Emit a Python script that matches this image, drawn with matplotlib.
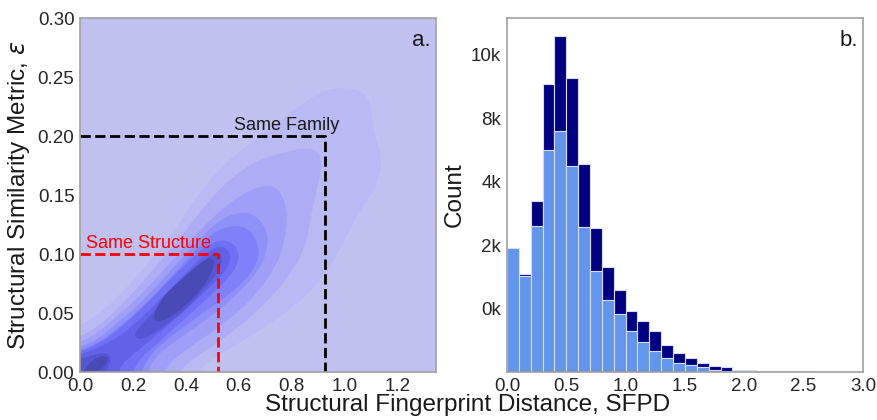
import numpy as np
import matplotlib
matplotlib.use('Agg')
import matplotlib.pyplot as plt
from matplotlib.path import Path
from matplotlib.patches import PathPatch

plt.rcParams['font.family'] = ['Liberation Sans', 'DejaVu Sans']
plt.rcParams['mathtext.fontset'] = 'dejavusans'

# ---- panel a: density contours (SFPD, epsilon) ----
kde_level_1 = [(-0.05, -0.02), (-0.05, 0.035), (0.05, 0.045), (0.15, 0.065), (0.25, 0.09),
               (0.35, 0.118), (0.45, 0.152), (0.55, 0.178), (0.7, 0.203), (0.82, 0.224),
               (0.9, 0.236), (0.96, 0.241), (1.05, 0.240), (1.10, 0.230), (1.105, 0.205),
               (1.145, 0.18), (1.12, 0.158), (1.06, 0.138), (1.0, 0.113), (0.95, 0.09),
               (0.85, 0.063), (0.7, 0.038), (0.55, 0.018), (0.45, 0.004), (0.4, -0.02)]
kde_level_2 = [(-0.05, -0.02), (-0.05, 0.026), (0.05, 0.035), (0.15, 0.055), (0.25, 0.08),
               (0.35, 0.106), (0.45, 0.135), (0.53, 0.156), (0.62, 0.173), (0.7, 0.182),
               (0.77, 0.186), (0.84, 0.19), (0.9, 0.188), (0.915, 0.175), (0.895, 0.155),
               (0.87, 0.13), (0.855, 0.108), (0.8, 0.084), (0.7, 0.058), (0.6, 0.038),
               (0.48, 0.019), (0.38, 0.004), (0.33, -0.02)]
kde_level_3 = [(-0.05, -0.02), (-0.05, 0.021), (0.05, 0.03), (0.15, 0.049), (0.25, 0.07),
               (0.35, 0.095), (0.45, 0.12), (0.55, 0.141), (0.63, 0.153), (0.69, 0.158),
               (0.735, 0.158), (0.77, 0.148), (0.785, 0.13), (0.77, 0.107), (0.74, 0.09),
               (0.68, 0.07), (0.6, 0.051), (0.5, 0.034), (0.4, 0.019), (0.32, 0.004),
               (0.28, -0.02)]
kde_level_4 = [(-0.05, -0.02), (-0.05, 0.018), (0.05, 0.025), (0.15, 0.043), (0.25, 0.063),
               (0.35, 0.088), (0.45, 0.112), (0.52, 0.128), (0.6, 0.136), (0.665, 0.133),
               (0.705, 0.121), (0.71, 0.107), (0.685, 0.089), (0.62, 0.072), (0.55, 0.057),
               (0.45, 0.04), (0.35, 0.025), (0.27, 0.01), (0.22, -0.02)]
kde_level_5 = [(-0.05, -0.02), (-0.05, 0.016), (0.05, 0.022), (0.15, 0.038), (0.25, 0.058),
               (0.35, 0.082), (0.45, 0.107), (0.52, 0.121), (0.6, 0.125), (0.65, 0.119),
               (0.678, 0.106), (0.668, 0.09), (0.6, 0.072), (0.52, 0.059), (0.42, 0.043),
               (0.33, 0.028), (0.25, 0.012), (0.2, -0.02)]
kde_level_6 = [(-0.05, -0.02), (-0.05, 0.014), (0.05, 0.021), (0.13, 0.033), (0.22, 0.051),
               (0.3, 0.069), (0.4, 0.092), (0.48, 0.108), (0.55, 0.113), (0.6, 0.105),
               (0.595, 0.089), (0.54, 0.075), (0.46, 0.058), (0.37, 0.04), (0.28, 0.022),
               (0.21, 0.008), (0.17, -0.02)]
kde_level_7 = [(-0.05, -0.02), (-0.05, 0.011), (0.05, 0.019), (0.12, 0.026), (0.2, 0.039),
               (0.3, 0.061), (0.4, 0.084), (0.48, 0.102), (0.535, 0.108), (0.572, 0.1),
               (0.558, 0.087), (0.5, 0.074), (0.42, 0.057), (0.34, 0.041), (0.26, 0.026),
               (0.19, 0.013), (0.15, 0.005), (0.12, -0.02)]
kde_level_8a = [(-0.05, -0.02), (-0.05, 0.008), (0.04, 0.014), (0.09, 0.017), (0.12, 0.013),
                (0.105, 0.004), (0.07, -0.02)]
kde_level_8b = [(0.2, 0.033), (0.3, 0.056), (0.38, 0.073), (0.45, 0.09), (0.5, 0.101),
                (0.537, 0.101), (0.532, 0.087), (0.48, 0.073), (0.42, 0.058), (0.35, 0.044),
                (0.27, 0.031), (0.22, 0.027)]
kde_level_9a = [(0.015, 0.002), (0.05, 0.011), (0.085, 0.014), (0.108, 0.012), (0.097, 0.005),
                (0.06, 0.0), (0.02, -0.004)]
kde_level_9b = [(0.275, 0.048), (0.31, 0.063), (0.36, 0.074), (0.405, 0.083), (0.45, 0.092),
                (0.495, 0.098), (0.51, 0.092), (0.485, 0.079), (0.455, 0.069), (0.41, 0.059),
                (0.37, 0.051), (0.32, 0.044), (0.29, 0.042)]

kde_levels = [kde_level_1, kde_level_2, kde_level_3, kde_level_4, kde_level_5, kde_level_6,
              kde_level_7, kde_level_8a, kde_level_8b, kde_level_9a, kde_level_9b]
kde_colors = ['#b9b9f3', '#adadf5', '#9f9ff7', '#9090f9', '#8080f9', '#7070f4',
              '#6262e8', '#5656d4', '#5656d4', '#4a4ab6', '#4a4ab6']
kde_background = '#c0c1f1'

same_family_sfpd, same_family_eps = 0.925, 0.20
same_struct_sfpd, same_struct_eps = 0.522, 0.10

# ---- panel b: stacked histogram counts, bins of 0.1 ----
bin_left = [0.0, 0.1, 0.2, 0.3, 0.4, 0.5, 0.6, 0.7, 0.8, 0.9, 1.0, 1.1, 1.2,
            1.3, 1.4, 1.5, 1.6, 1.7, 1.8, 1.9, 2.0, 2.1, 2.2, 2.3, 2.4, 2.5]
count_light = [3910, 3020, 4610, 6990, 7590, 6500, 4560, 3200, 2260, 1820, 1290, 950, 650,
               460, 290, 210, 150, 80, 50, 30, 20, 10, 10, 0, 0, 0]
count_total = [3910, 3100, 5380, 9070, 10600, 9270, 6560, 4550, 3320, 2590, 1930, 1600, 1280,
               860, 600, 440, 280, 180, 150, 80, 70, 50, 50, 30, 20, 20]
count_ticks = [2000, 4000, 6000, 8000, 10000]
count_tick_labels = ['0k', '2k', '4k', '8k', '10k']


def smooth_patch(pts, color):
    pts = np.asarray(pts, dtype=float)
    n = len(pts)
    mids = (pts + np.roll(pts, -1, axis=0)) / 2
    verts = [mids[-1]]
    codes = [Path.MOVETO]
    for i in range(n):
        verts += [pts[i], mids[i]]
        codes += [Path.CURVE3, Path.CURVE3]
    verts.append(mids[-1])
    codes.append(Path.CLOSEPOLY)
    return PathPatch(Path(verts, codes), facecolor=color, edgecolor='none')


def style_axes(ax):
    for s in ax.spines.values():
        s.set_color('#a0a0a0')
        s.set_linewidth(1.2)
    ax.tick_params(length=0, pad=4, labelsize=13.5, labelcolor='#262626')


fig = plt.figure(figsize=(8.77, 4.2), dpi=100)
ax1 = fig.add_axes([0.0912, 0.114, 0.406, 0.843])
ax2 = fig.add_axes([0.578, 0.114, 0.406, 0.843])

# panel a
ax1.set_facecolor(kde_background)
for pts, c in zip(kde_levels, kde_colors):
    ax1.add_patch(smooth_patch(pts, c))
ax1.plot([0, same_family_sfpd, same_family_sfpd], [same_family_eps, same_family_eps, 0],
         color='black', linestyle='--', lw=2)
ax1.plot([0, same_struct_sfpd, same_struct_sfpd], [same_struct_eps, same_struct_eps, 0],
         color='red', linestyle='--', lw=2)
ax1.text(0.78, 0.205, 'Same Family', ha='center', va='baseline', fontsize=13, color='#1a1a1a')
ax1.text(0.023, 0.105, 'Same Structure', ha='left', va='baseline', fontsize=13, color='red')
ax1.set_xlim(0, 1.345)
ax1.set_ylim(0, 0.30)
ax1.set_xticks([0.0, 0.2, 0.4, 0.6, 0.8, 1.0, 1.2])
ax1.set_yticks([0.0, 0.05, 0.10, 0.15, 0.20, 0.25, 0.30])
ax1.set_yticklabels(['0.00', '0.05', '0.10', '0.15', '0.20', '0.25', '0.30'])
ax1.set_ylabel(r'Structural Similarity Metric, $\varepsilon$', fontsize=17.5, color='#1a1a1a')
ax1.text(0.985, 0.965, 'a.', transform=ax1.transAxes, ha='right', va='top', fontsize=16,
         color='#1a1a1a')
style_axes(ax1)

# panel b
ax2.bar(bin_left, count_total, width=0.1, align='edge', color='navy',
        edgecolor='#d8dcf2', linewidth=0.8)
ax2.bar(bin_left, count_light, width=0.1, align='edge', color='cornflowerblue',
        edgecolor='#d8dcf2', linewidth=0.8)
ax2.set_xlim(0, 3.0)
ax2.set_ylim(0, 11150)
ax2.set_xticks([0.0, 0.5, 1.0, 1.5, 2.0, 2.5, 3.0])
ax2.set_yticks(count_ticks)
ax2.set_yticklabels(count_tick_labels)
ax2.set_ylabel('Count', fontsize=17.5, color='#1a1a1a')
ax2.text(0.985, 0.965, 'b.', transform=ax2.transAxes, ha='right', va='top', fontsize=16,
         color='#1a1a1a')
style_axes(ax2)

fig.text(0.533, 0.035, 'Structural Fingerprint Distance, SFPD', ha='center', va='center',
         fontsize=17.5, color='#1a1a1a')

fig.savefig('out.png', dpi=100)
